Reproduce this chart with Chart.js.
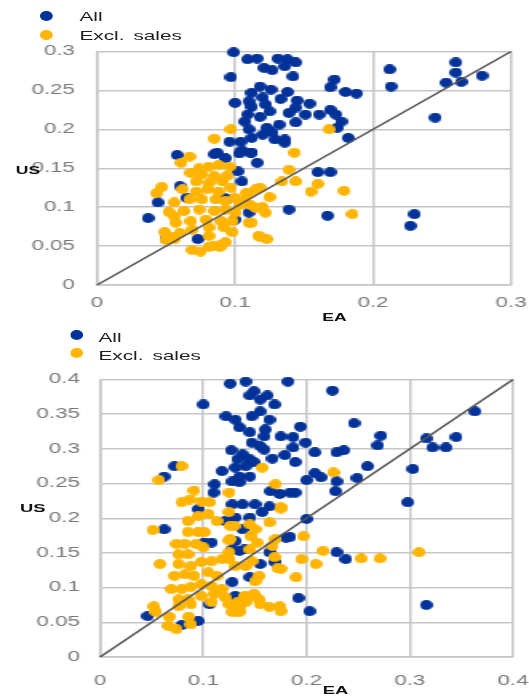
<!DOCTYPE html>
<html>
<head>
<meta charset="utf-8">
<script src="https://cdn.jsdelivr.net/npm/chart.js@4.4.1/dist/chart.umd.min.js"></script>
<style>
  body { margin: 0; background: #fff; overflow: hidden; }
  /* the source picture is stretched sideways, so everything is drawn narrow and scaled in x */
  #wrap { position: absolute; left: 0; top: 0; width: 331px; height: 696px;
          transform: scaleX(1.59819); transform-origin: 0 0;
          font-family: "Liberation Sans", Arial, sans-serif; }
  canvas { position: absolute; left: 0; }
  .dot { position: absolute; width: 8px; height: 10px; border-radius: 50%; }
  .leg { position: absolute; font-size: 13px; line-height: 15px; color: #1e1e1e; white-space: nowrap; word-spacing: 2px; }
  .ax { position: absolute; width: 40px; text-align: center; font-weight: bold; color: #111; line-height: 13px; }
</style>
</head>
<body>
<div id="wrap">
  <canvas id="chartTop" width="331" height="320" style="top:0;width:331px;height:320px"></canvas>
  <canvas id="chartBottom" width="331" height="376" style="top:320px;width:331px;height:376px"></canvas>

  <div class="dot" style="left:24.8px;top:11px;background:#003299"></div>
  <div class="leg" style="left:49.7px;top:8.6px">All</div>
  <div class="dot" style="left:24.8px;top:30px;background:#ffb400"></div>
  <div class="leg" style="left:49.7px;top:28px">Excl. sales</div>
  <div class="ax" style="left:-2.5px;top:164px;font-size:11px">US</div>
  <div class="ax" style="left:189.3px;top:310.5px;font-size:11px">EA</div>

  <div class="dot" style="left:43.6px;top:330px;background:#003299"></div>
  <div class="leg" style="left:61.6px;top:329.6px">All</div>
  <div class="dot" style="left:43.6px;top:348px;background:#ffb400"></div>
  <div class="leg" style="left:61.6px;top:347.6px">Excl. sales</div>
  <div class="ax" style="left:0.5px;top:502px;font-size:11.5px">US</div>
  <div class="ax" style="left:190px;top:683.5px;font-size:11.5px">EA</div>
</div>

<script>
const BLUE = "#003299";
const ORANGE = "#ffb400";

// upper panel, [EA, US]
const topAll = [
  [0.099,0.299],[0.097,0.267],[0.109,0.290],[0.116,0.291],[0.131,0.291],[0.138,0.290],[0.144,0.286],[0.136,0.281],[0.121,0.279],[0.127,0.276],[0.142,0.268],
  [0.118,0.255],[0.126,0.251],[0.112,0.247],[0.138,0.248],[0.110,0.236],[0.120,0.241],[0.133,0.239],[0.145,0.237],[0.154,0.233],
  [0.100,0.234],[0.112,0.229],[0.122,0.232],[0.125,0.223],[0.144,0.228],[0.139,0.221],[0.151,0.219],[0.161,0.219],[0.169,0.225],[0.173,0.219],
  [0.109,0.219],[0.118,0.216],[0.107,0.210],[0.144,0.209],[0.177,0.210],[0.132,0.206],[0.123,0.202],[0.127,0.196],[0.120,0.193],[0.110,0.200],
  [0.112,0.189],[0.104,0.184],[0.096,0.184],[0.129,0.187],[0.136,0.183],[0.136,0.187],[0.182,0.189],[0.174,0.202],
  [0.172,0.264],[0.169,0.254],[0.180,0.248],[0.188,0.246],
  [0.212,0.277],[0.213,0.255],[0.260,0.286],[0.260,0.273],[0.253,0.260],[0.264,0.261],[0.279,0.269],[0.245,0.215],
  [0.105,0.173],[0.112,0.170],[0.087,0.170],[0.058,0.167],[0.093,0.163],[0.103,0.169],[0.111,0.170],[0.116,0.157],[0.102,0.146],[0.105,0.133],
  [0.160,0.145],[0.169,0.145],[0.060,0.127],[0.044,0.106],[0.037,0.086],[0.139,0.097],[0.110,0.093],[0.167,0.089],[0.230,0.091],[0.227,0.076],
  [0.100,0.084],[0.050,0.059],[0.073,0.059],[0.094,0.110],[0.092,0.112],[0.065,0.112],[0.085,0.168]
];
const topExcl = [
  [0.097,0.200],[0.085,0.188],[0.067,0.165],[0.168,0.200],[0.143,0.170],[0.061,0.157],
  [0.139,0.148],[0.134,0.133],[0.144,0.133],[0.160,0.130],[0.155,0.120],[0.179,0.121],[0.185,0.091],
  [0.122,0.093],[0.120,0.100],[0.125,0.113],[0.118,0.125],[0.110,0.118],[0.112,0.080],[0.118,0.062],[0.123,0.059],
  [0.047,0.126],[0.043,0.118],[0.056,0.106],[0.052,0.094],[0.056,0.088],[0.049,0.068],[0.055,0.062],[0.050,0.058],
  [0.069,0.045],[0.075,0.043],[0.081,0.049],[0.089,0.049],[0.093,0.055],[0.098,0.068],
  [0.074,0.150],[0.081,0.152],[0.088,0.154],[0.096,0.152],[0.068,0.144],[0.076,0.142],[0.085,0.140],[0.094,0.140],[0.072,0.133],[0.081,0.131],[0.091,0.133],
  [0.062,0.123],[0.072,0.120],[0.080,0.123],[0.088,0.120],[0.097,0.125],[0.067,0.110],[0.076,0.110],[0.086,0.110],[0.093,0.108],
  [0.063,0.095],[0.074,0.097],[0.085,0.095],[0.093,0.097],
  [0.057,0.080],[0.068,0.082],[0.079,0.084],[0.090,0.082],[0.098,0.082],[0.060,0.067],[0.069,0.071],[0.081,0.074],[0.092,0.074],[0.056,0.059],[0.081,0.063],
  [0.084,0.050],[0.090,0.052],[0.100,0.112],[0.108,0.118],[0.115,0.123],[0.107,0.108],[0.111,0.103],[0.115,0.099],[0.110,0.080],[0.117,0.063],[0.100,0.093],[0.103,0.103]
];

// lower panel, [EA, US]
const botAll = [
  [0.100,0.364],[0.126,0.394],[0.141,0.397],[0.182,0.397],
  [0.149,0.383],[0.145,0.377],[0.155,0.371],[0.162,0.377],[0.169,0.364],[0.225,0.384],
  [0.122,0.347],[0.131,0.342],[0.147,0.347],[0.155,0.354],[0.164,0.342],
  [0.135,0.331],[0.145,0.324],[0.160,0.328],[0.159,0.318],[0.194,0.332],
  [0.246,0.337],[0.272,0.319],[0.269,0.305],
  [0.175,0.318],[0.187,0.317],[0.199,0.309],[0.187,0.302],[0.179,0.291],
  [0.147,0.309],[0.155,0.304],[0.159,0.299],
  [0.127,0.298],[0.138,0.292],[0.133,0.285],[0.145,0.285],[0.141,0.275],[0.149,0.281],[0.167,0.286],[0.189,0.281],
  [0.208,0.295],[0.229,0.295],[0.236,0.298],[0.259,0.275],[0.303,0.271],
  [0.316,0.315],[0.322,0.302],[0.335,0.302],[0.345,0.317],[0.363,0.354],
  [0.118,0.268],[0.131,0.273],[0.135,0.260],[0.145,0.260],[0.128,0.253],[0.135,0.252],[0.111,0.249],[0.110,0.237],
  [0.200,0.255],[0.208,0.265],[0.214,0.259],[0.229,0.253],[0.228,0.239],[0.249,0.258],
  [0.165,0.239],[0.174,0.235],[0.184,0.237],[0.189,0.237],
  [0.298,0.223],[0.062,0.260],[0.072,0.275],
  [0.200,0.199],[0.062,0.184],[0.180,0.172],[0.229,0.151],[0.238,0.141],
  [0.164,0.151],[0.155,0.134],[0.169,0.137],[0.128,0.108],[0.192,0.085],[0.203,0.066],[0.316,0.075],
  [0.046,0.059],[0.095,0.052],[0.079,0.046],
  [0.128,0.220],[0.138,0.220],[0.150,0.220],[0.164,0.217],[0.157,0.209],[0.145,0.201],[0.131,0.201],[0.121,0.196],
  [0.138,0.184],[0.131,0.167],[0.140,0.155],[0.128,0.155],[0.101,0.165],[0.145,0.115],[0.106,0.076],[0.131,0.088],
  [0.184,0.173],[0.135,0.153],[0.095,0.213],[0.108,0.165]
];
const botExcl = [
  [0.079,0.275],[0.057,0.255],[0.157,0.273],[0.226,0.266],[0.170,0.249],[0.125,0.237],[0.091,0.240],
  [0.079,0.223],[0.087,0.227],[0.098,0.224],[0.106,0.223],[0.175,0.216],
  [0.051,0.183],[0.058,0.134],[0.197,0.174],[0.216,0.153],[0.253,0.142],[0.271,0.142],[0.309,0.151],
  [0.195,0.141],[0.209,0.134],[0.190,0.115],[0.172,0.128],[0.164,0.194],[0.175,0.214],
  [0.125,0.209],[0.126,0.189],[0.125,0.168],
  [0.150,0.184],[0.146,0.174],[0.145,0.191],[0.152,0.165],[0.145,0.155],
  [0.154,0.117],[0.150,0.109],[0.167,0.160],[0.169,0.144],
  [0.149,0.091],[0.140,0.088],[0.133,0.079],[0.128,0.065],[0.133,0.065],
  [0.155,0.076],[0.164,0.072],[0.174,0.073],[0.175,0.066],
  [0.052,0.073],[0.054,0.065],
  [0.067,0.058],[0.066,0.045],[0.074,0.040],[0.086,0.058],[0.088,0.047],
  [0.085,0.196],[0.095,0.203],[0.105,0.206],[0.113,0.196],
  [0.085,0.180],[0.095,0.180],[0.101,0.180],
  [0.074,0.163],[0.082,0.163],[0.093,0.163],[0.100,0.158],[0.076,0.148],[0.085,0.148],
  [0.076,0.134],[0.088,0.131],[0.098,0.137],[0.108,0.138],[0.118,0.141],
  [0.072,0.117],[0.082,0.119],[0.091,0.117],[0.105,0.122],[0.113,0.117],
  [0.069,0.098],[0.079,0.098],[0.088,0.101],[0.098,0.105],[0.108,0.102],[0.118,0.098],
  [0.076,0.083],[0.085,0.083],[0.098,0.088],[0.111,0.091],[0.121,0.086],
  [0.076,0.073],[0.088,0.076],[0.108,0.079],[0.125,0.076],[0.136,0.073],
  [0.135,0.065],[0.125,0.141],[0.131,0.131],[0.141,0.131],[0.147,0.138],
  [0.130,0.189],[0.126,0.170],[0.125,0.151],
  [0.170,0.170],[0.175,0.127],[0.154,0.083],[0.146,0.088],[0.141,0.079]
];

// 45 degree line ends and tick labels
const topDiag = [0, 0.3];
const botDiag = [0, 0.4];
const topXTicks = [0, 0.1, 0.2, 0.3];
const topYTicks = [0, 0.05, 0.1, 0.15, 0.2, 0.25, 0.3];
const botXTicks = [0, 0.1, 0.2, 0.3, 0.4];
const botYTicks = [0, 0.05, 0.1, 0.15, 0.2, 0.25, 0.3, 0.35, 0.4];

function dotImage(color) {
  const c = document.createElement("canvas");
  c.width = 8;
  c.height = 10;
  const g = c.getContext("2d");
  g.fillStyle = color;
  g.beginPath();
  g.ellipse(4, 5, 4, 5, 0, 0, Math.PI * 2);
  g.fill();
  return c;
}

// x labels are pushed down with a tall line height rather than tick padding,
// because tick padding also widens the right margin of the plot
function axis(ticks, pad, lineHeight, fit) {
  return {
    type: "linear",
    min: ticks[0],
    max: ticks[ticks.length - 1],
    afterBuildTicks: s => { s.ticks = ticks.map(v => ({ value: v })); },
    afterFit: fit,
    grid: { color: "#c6c6c6", lineWidth: 1.5, drawTicks: false },
    border: { color: "#c6c6c6", width: 1.5 },
    ticks: {
      padding: pad,
      color: "#7a7a7a",
      font: { family: "Liberation Sans", size: 14, lineHeight: lineHeight },
      callback: v => String(v)
    }
  };
}

function drawPanel(id, all, excl, diag, xTicks, yTicks, box) {
  const pts = arr => arr.map(p => ({ x: p[0], y: p[1] }));
  new Chart(document.getElementById(id), {
    type: "scatter",
    data: {
      datasets: [
        {
          type: "line",
          label: "45 degree",
          data: diag.map(v => ({ x: v, y: v })),
          borderColor: "#555555",
          borderWidth: 1.6,
          pointRadius: 0,
          order: 0,
          clip: false
        },
        {
          label: "Excl. sales",
          data: pts(excl),
          pointStyle: dotImage(ORANGE),
          pointRadius: 5,
          order: 1,
          clip: false
        },
        {
          label: "All",
          data: pts(all),
          pointStyle: dotImage(BLUE),
          pointRadius: 5,
          order: 2,
          clip: false
        }
      ]
    },
    options: {
      responsive: false,
      devicePixelRatio: 1,
      animation: false,
      layout: { padding: { top: box.top, right: box.right, left: 0, bottom: 0 } },
      plugins: { legend: { display: false }, tooltip: { enabled: false } },
      scales: {
        x: axis(xTicks, 0, box.xLine, s => { s.height = box.xh; }),
        y: axis(yTicks, box.yPad, 1.2, s => { s.width = box.yw; })
      }
    }
  });
}

drawPanel("chartTop", topAll, topExcl, topDiag, topXTicks, topYTicks,
  { top: 51.5, right: 11.25, yw: 60.7, xh: 35, xLine: 2.63, yPad: 13.8 });
drawPanel("chartBottom", botAll, botExcl, botDiag, botXTicks, botYTicks,
  { top: 59.5, right: 10, yw: 62.6, xh: 39, xLine: 3.49, yPad: 12.6 });
</script>
</body>
</html>
